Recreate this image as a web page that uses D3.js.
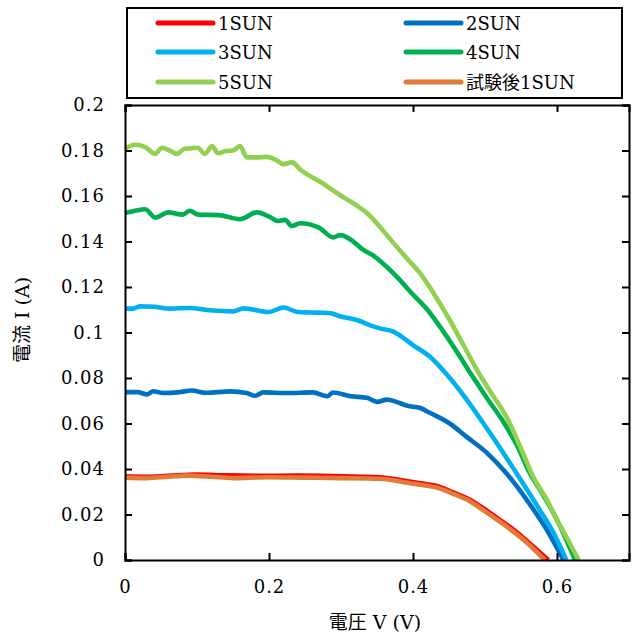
<!DOCTYPE html>
<html><head><meta charset="utf-8">
<script src="https://cdn.jsdelivr.net/npm/d3@7"></script>
<style>body{margin:0;background:#fff}</style>
</head><body>
<svg id="c" width="638" height="636"></svg>
<script>
const seriesNames = ["1SUN","2SUN","3SUN","4SUN","5SUN","試験後1SUN"];
const seriesColors = ["#FF0000","#0070C0","#00B0F0","#00B050","#92D050","#E07B39"];
const xTicks = [0,0.2,0.4,0.6];
const yTicks = [0,0.02,0.04,0.06,0.08,0.1,0.12,0.14,0.16,0.18,0.2];
const yTickLabels = ["0","0.02","0.04","0.06","0.08","0.1","0.12","0.14","0.16","0.18","0.2"];
const xTickLabels = ["0","0.2","0.4","0.6"];

const v1 = [0,0.03,0.06,0.1,0.14,0.19,0.24,0.3,0.354,0.386,0.41,0.433,0.455,0.479,0.5,0.52,0.539,0.5625,0.588];
const i1 = [0.0368,0.0366,0.037,0.0376,0.0372,0.037,0.0371,0.0368,0.0364,0.0349,0.0337,0.0325,0.0298,0.0265,0.0222,0.0178,0.0135,0.0072,0];
const v2 = [0,0.017,0.031,0.039,0.053,0.076,0.092,0.113,0.146,0.169,0.181,0.192,0.225,0.261,0.281,0.289,0.313,0.336,0.35,0.364,0.377,0.392,0.41,0.424,0.451,0.475,0.503,0.53,0.558,0.586,0.609];
const i2 = [0.0738,0.0738,0.0728,0.0742,0.0734,0.0738,0.0745,0.0735,0.0741,0.0734,0.0722,0.0737,0.0734,0.0737,0.072,0.0736,0.072,0.0713,0.0695,0.0705,0.0695,0.0678,0.0668,0.0646,0.060,0.054,0.047,0.038,0.0264,0.0132,0];
const v3 = [0,0.011,0.021,0.04,0.063,0.09,0.118,0.15,0.165,0.2,0.22,0.24,0.256,0.283,0.3,0.322,0.344,0.354,0.372,0.385,0.40,0.424,0.447,0.475,0.507,0.544,0.576,0.595,0.613];
const i3 = [0.1105,0.1105,0.1115,0.1113,0.1105,0.1108,0.1098,0.1093,0.1106,0.109,0.111,0.109,0.1088,0.1086,0.107,0.1055,0.1028,0.1018,0.1005,0.098,0.0945,0.0892,0.0815,0.0703,0.0558,0.038,0.022,0.012,0];
const v4 = [0,0.014,0.028,0.042,0.06,0.08,0.09,0.102,0.13,0.16,0.183,0.2,0.212,0.222,0.232,0.243,0.27,0.289,0.299,0.317,0.33,0.344,0.363,0.382,0.396,0.42,0.442,0.462,0.483,0.503,0.525,0.545,0.5625,0.58,0.6,0.625];
const i4 = [0.1525,0.1535,0.1542,0.1505,0.1528,0.1518,0.1535,0.1518,0.1516,0.1498,0.1528,0.151,0.149,0.1495,0.1468,0.148,0.146,0.1418,0.1428,0.14,0.1365,0.134,0.129,0.123,0.118,0.11,0.1005,0.091,0.0805,0.071,0.061,0.05,0.038,0.029,0.0176,0];
const v5 = [0,0.014,0.028,0.042,0.051,0.062,0.072,0.083,0.092,0.101,0.111,0.121,0.129,0.14,0.15,0.16,0.169,0.183,0.197,0.21,0.22,0.232,0.245,0.261,0.275,0.29,0.308,0.322,0.336,0.354,0.368,0.382,0.396,0.41,0.43,0.451,0.47,0.489,0.51,0.53,0.55,0.567,0.585,0.6,0.615,0.63];
const i5 = [0.1808,0.1825,0.1815,0.1785,0.1812,0.18,0.1785,0.1808,0.181,0.1812,0.1785,0.182,0.1788,0.1798,0.18,0.182,0.177,0.177,0.1772,0.1758,0.174,0.1748,0.1712,0.168,0.1655,0.1622,0.1585,0.1558,0.1525,0.1465,0.1412,0.136,0.131,0.126,0.1165,0.1055,0.0945,0.0835,0.0728,0.0628,0.049,0.0365,0.027,0.0176,0.009,0];
const v6 = [0,0.03,0.06,0.086,0.12,0.15,0.2,0.25,0.3,0.354,0.386,0.41,0.433,0.455,0.479,0.5,0.52,0.539,0.5625,0.583];
const i6 = [0.0362,0.036,0.0366,0.0371,0.0366,0.036,0.0364,0.0362,0.036,0.0357,0.0343,0.0331,0.0318,0.0292,0.0258,0.0214,0.017,0.0126,0.0064,0];

const volts = [v1,v2,v3,v4,v5,v6];
const amps = [i1,i2,i3,i4,i5,i6];

const svg = d3.select("#c");
const L=125, R=629, T=105, B=560;
const x = d3.scaleLinear().domain([0,0.7]).range([L,R]);
const y = d3.scaleLinear().domain([0,0.2]).range([B,T]);
const tickFont = "'DejaVu Serif', serif";

// series
const line = d3.line().x(d=>x(d[0])).y(d=>y(d[1])).curve(d3.curveMonotoneX);
[0,1,2,3,4,5].forEach(k=>{
  const pts = volts[k].map((v,j)=>[v,amps[k][j]]);
  svg.append("path").attr("d",line(pts)).attr("fill","none")
    .attr("stroke",seriesColors[k]).attr("stroke-width",4.6).attr("stroke-linejoin","round");
});

// axes
const ax = svg.append("g");
ax.append("g").attr("transform",`translate(0,${B})`)
  .call(d3.axisBottom(x).tickValues(xTicks).tickSize(-7).tickPadding(20).tickFormat((d,i)=>xTickLabels[i]));
ax.append("g").attr("transform",`translate(0,${T})`)
  .call(d3.axisTop(x).tickValues(xTicks).tickSize(-7).tickFormat(""));
ax.append("g").attr("transform",`translate(${L},0)`)
  .call(d3.axisLeft(y).tickValues(yTicks).tickSize(-7).tickPadding(20).tickFormat((d,i)=>yTickLabels[i]));
ax.append("g").attr("transform",`translate(${R},0)`)
  .call(d3.axisRight(y).tickValues(yTicks).tickSize(-7).tickFormat(""));
ax.selectAll(".domain").attr("stroke","#000").attr("stroke-width",2);
ax.selectAll(".tick line").attr("stroke","#000").attr("stroke-width",2);
ax.selectAll(".tick text").attr("font-family",tickFont).attr("font-size",18).attr("fill","#000").attr("letter-spacing","1px");

// axis titles
svg.append("text").attr("x",375).attr("y",629).attr("text-anchor","middle")
  .attr("font-family","'DejaVu Serif','Noto Sans CJK JP',serif").attr("font-size",19).text("電圧 V (V)");
svg.append("text").attr("transform","translate(29,320) rotate(-90)").attr("text-anchor","middle")
  .attr("font-family","'DejaVu Serif','Noto Sans CJK JP',serif").attr("font-size",19).text("電流 I (A)");

// legend
const lg = svg.append("g");
lg.append("rect").attr("x",127).attr("y",8).attr("width",495).attr("height",90)
  .attr("fill","#fff").attr("stroke","#000").attr("stroke-width",2);
const colX = [158,406], rowY=[23,52,82];
seriesNames.forEach((n,k)=>{
  const cx = colX[k%2], cy = rowY[Math.floor(k/2)];
  lg.append("line").attr("x1",cx).attr("x2",cx+55).attr("y1",cy).attr("y2",cy)
    .attr("stroke",seriesColors[k]).attr("stroke-width",5).attr("stroke-linecap","round");
  lg.append("text").attr("x",cx+60).attr("y",cy+7).attr("font-family","'DejaVu Serif','Noto Sans CJK JP',serif")
    .attr("font-size",18).text(n);
});
</script>
</body></html>
